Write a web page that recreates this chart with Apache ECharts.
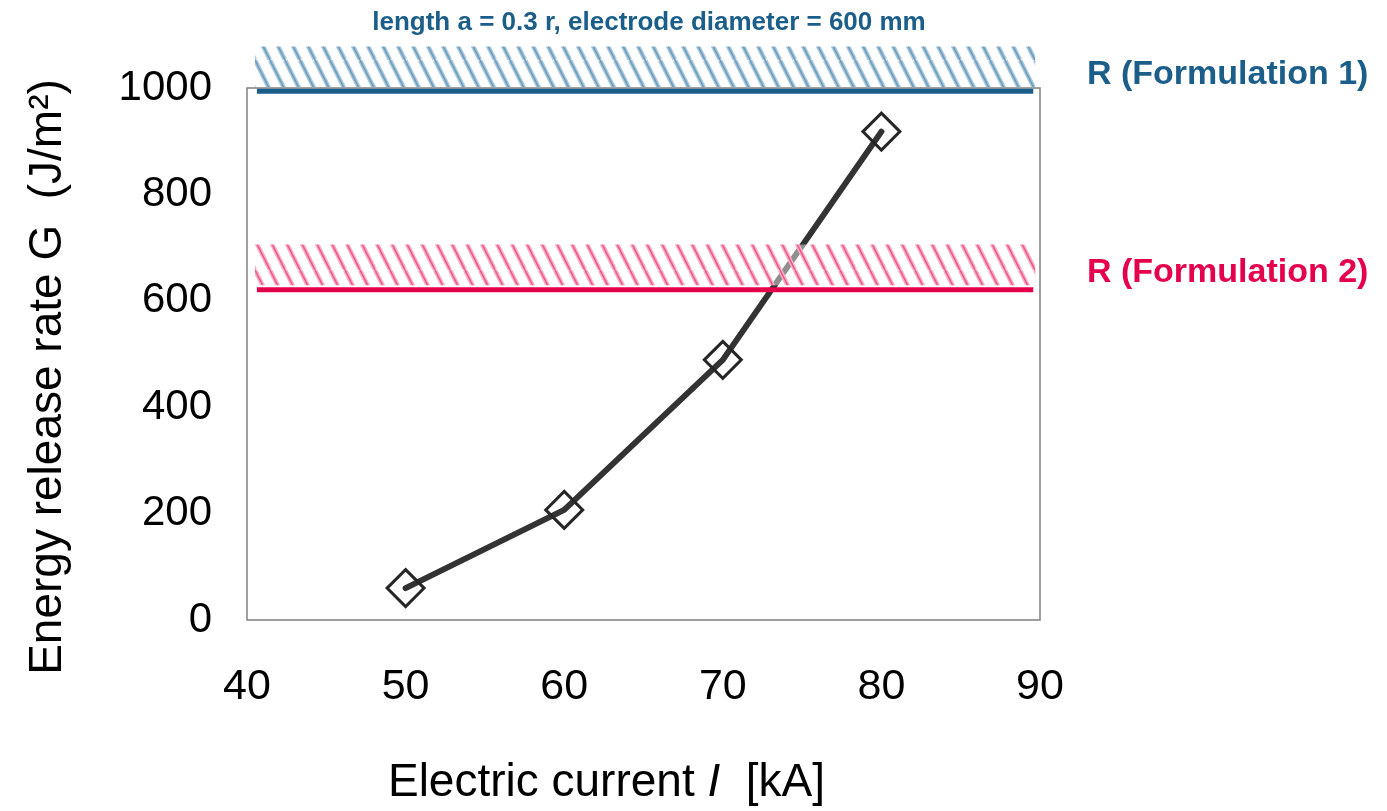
<!DOCTYPE html>
<html>
<head>
<meta charset="utf-8">
<script src="https://cdn.jsdelivr.net/npm/echarts@6/dist/echarts.min.js"></script>
<style>
  html, body { margin: 0; padding: 0; background: #fff; }
  #chart { width: 1387px; height: 811px; }
</style>
</head>
<body>
<div id="chart"></div>
<script>
// data
var currentKA = [50, 60, 70, 80];
var releaseRate = [60, 207, 489, 918];
var xTicks = [40, 90, 10];          // min, max, step
var yTicks = [0, 1000, 200];
var formulations = ['R (Formulation 1)', 'R (Formulation 2)'];
var rLine = [994, 621];
var rBandLow = [1002, 629];
var rBandHigh = [1078, 706];
var bandSpan = [40.5, 89.7];
var rColors = ['#1b5e8a', '#e4004b'];

var FONT = '"Liberation Sans", Arial, sans-serif';

// diagonal hatch tile
function hatch(light, dark) {
  var c = document.createElement('canvas');
  c.width = 15; c.height = 30;
  var g = c.getContext('2d');
  [[light, 4.5], [dark, 1.5]].forEach(function (s) {
    g.strokeStyle = s[0];
    g.lineWidth = s[1];
    [-15, 0, 15].forEach(function (x0) {
      g.beginPath();
      g.moveTo(x0, 0);
      g.lineTo(x0 + 15, 30);
      g.stroke();
    });
  });
  return c;
}
var patterns = [
  hatch('#a9c8dc', '#6b9cbf'),
  hatch('#f7b0c7', '#ec5a8a')
];

var bandData = formulations.map(function (name, i) {
  return [bandSpan[0], bandSpan[1], rBandLow[i], rBandHigh[i], rLine[i]];
});

var chart = echarts.init(document.getElementById('chart'));
var option = {
  animation: false,
  title: {
    text: 'length a = 0.3 r, electrode diameter = 600 mm',
    left: 644,
    textAlign: 'center',
    top: 5,
    textStyle: { color: '#1b5e8a', fontSize: 26, fontWeight: 'bold', fontFamily: FONT }
  },
  grid: {
    left: 247, right: 347, top: 88, bottom: 187,
    show: true,
    borderColor: '#808080',
    borderWidth: 1.5
  },
  xAxis: {
    type: 'value',
    min: xTicks[0], max: xTicks[1], interval: xTicks[2],
    axisLine: { show: false },
    axisTick: { show: false },
    splitLine: { show: false },
    axisLabel: { fontSize: 43, color: '#000', fontFamily: FONT, margin: 46 },
    name: 'Electric current {i|I}  [kA]',
    nameLocation: 'middle',
    nameGap: 140,
    nameTextStyle: {
      fontSize: 46, color: '#000', fontFamily: FONT,
      padding: [0, 74, 0, 0],
      rich: { i: { fontSize: 46, fontStyle: 'italic', fontFamily: FONT, color: '#000' } }
    }
  },
  yAxis: {
    type: 'value',
    min: yTicks[0], max: yTicks[1], interval: yTicks[2],
    axisLine: { show: false },
    axisTick: { show: false },
    splitLine: { show: false },
    axisLabel: {
      fontSize: 42, color: '#000', fontFamily: FONT, margin: 35,
      formatter: function (v) { return String(v); }
    },
    name: 'Energy release rate G  (J/m²)',
    nameLocation: 'middle',
    nameGap: 176,
    nameTextStyle: {
      fontSize: 46, color: '#000', fontFamily: FONT,
      padding: [0, 46, 0, 0]
    }
  },
  series: [
    {
      type: 'line',
      z: 2,
      data: currentKA.map(function (x, i) { return [x, releaseRate[i]]; }),
      symbol: 'diamond',
      symbolSize: 37,
      itemStyle: { color: 'rgba(0,0,0,0)', borderColor: '#262626', borderWidth: 3 },
      lineStyle: { color: '#333333', width: 6, cap: 'round' },
      emphasis: { disabled: true }
    },
    {
      type: 'custom',
      z: 4,
      clip: false,
      silent: true,
      encode: { x: [0, 1], y: [2, 3, 4] },
      data: bandData,
      renderItem: function (params, api) {
        var i = params.dataIndex;
        var tl = api.coord([api.value(0), api.value(3)]);
        var br = api.coord([api.value(1), api.value(2)]);
        var ly = api.coord([api.value(0), api.value(4)])[1];
        var rightEdge = api.coord([xTicks[1], 0])[0];
        var w = br[0] - tl[0], h = br[1] - tl[1];
        return {
          type: 'group',
          children: [
            { type: 'rect', shape: { x: tl[0], y: tl[1], width: w, height: h },
              style: { fill: 'rgba(255,255,255,0.45)' } },
            { type: 'rect', shape: { x: tl[0], y: tl[1], width: w, height: h },
              style: { fill: { image: patterns[i], repeat: 'repeat' } } },
            { type: 'rect', shape: { x: tl[0] + 2, y: ly - 2.5, width: w - 4, height: 5 },
              style: { fill: rColors[i] } },
            { type: 'text',
              style: { text: formulations[i], x: rightEdge + 47, y: (tl[1] + br[1]) / 2 + 8,
                       fill: rColors[i], font: 'bold 34px ' + FONT,
                       verticalAlign: 'middle', align: 'left' } }
          ]
        };
      }
    }
  ]
};
chart.setOption(option);
</script>
</body>
</html>
